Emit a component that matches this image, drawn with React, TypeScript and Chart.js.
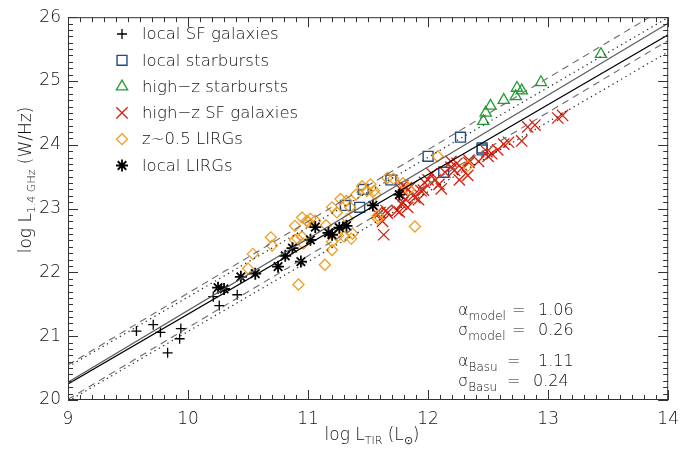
import React, { useEffect, useRef } from 'react';
import { Chart, registerables } from 'chart.js';

Chart.register(...registerables);

// ---------- data ----------
const xTicks = [9, 10, 11, 12, 13, 14];
const yTicks = [20, 21, 22, 23, 24, 25, 26];

const localSF: number[][] = [
  [9.57, 21.08], [9.71, 21.18], [9.77, 21.06], [9.94, 21.12], [9.93, 20.96],
  [9.83, 20.74], [10.21, 21.62], [10.26, 21.48], [10.41, 21.65],
];

const localStarbursts: number[][] = [
  [11.31, 23.05], [11.43, 23.02], [11.46, 23.3], [11.69, 23.45], [12.0, 23.82],
  [12.13, 23.57], [12.27, 24.12], [12.45, 23.95], [12.45, 23.92],
];

const highzStarbursts: number[][] = [
  [12.46, 24.37], [12.48, 24.5], [12.52, 24.61], [12.63, 24.7], [12.73, 24.76],
  [12.74, 24.89], [12.78, 24.85], [12.94, 24.98], [13.44, 25.42],
];

const highzSF: number[][] = [
  [11.63, 22.59], [11.62, 22.8], [11.6, 22.94], [11.65, 22.97], [11.74, 22.97],
  [11.78, 23.07], [11.83, 23.02], [11.81, 23.15], [11.88, 23.21], [11.96, 23.29],
  [12.06, 23.45], [12.09, 23.38], [12.11, 23.31], [12.14, 23.57], [12.19, 23.65],
  [12.22, 23.6], [12.26, 23.45], [12.33, 23.52], [12.34, 23.72], [12.49, 23.89],
  [12.53, 23.86], [12.58, 23.92], [12.63, 24.01], [12.67, 24.04], [12.78, 24.06],
  [12.83, 24.28], [12.89, 24.31], [13.08, 24.42], [13.12, 24.46], [12.5, 23.82],
  [12.42, 23.74], [12.34, 23.76], [12.19, 23.74], [11.57, 22.93], [11.66, 22.93],
  [11.76, 22.95], [11.79, 23.1], [11.79, 23.36], [11.86, 23.35], [11.94, 23.28],
  [11.97, 23.41], [11.89, 23.17], [11.78, 23.29], [11.82, 23.33], [12.0, 23.45],
  [12.03, 23.55], [12.24, 23.71], [12.28, 23.63], [11.92, 23.14],
];

const lirgsZ05: number[][] = [
  [10.54, 22.29], [10.5, 22.06], [10.69, 22.55], [10.7, 22.42], [10.89, 22.73],
  [10.92, 21.81], [10.95, 22.86], [10.99, 22.81], [11.02, 22.84], [11.06, 22.81],
  [10.95, 22.56], [10.96, 22.45], [10.91, 22.53], [11.14, 22.12], [11.2, 22.35],
  [11.2, 23.02], [11.24, 22.94], [11.27, 23.15], [11.15, 22.74], [11.33, 22.84],
  [11.3, 22.56], [11.37, 22.61], [11.4, 23.22], [11.49, 23.28], [11.55, 23.28],
  [11.52, 23.38], [11.58, 22.84], [11.66, 23.48], [11.71, 23.47], [11.89, 22.72],
  [12.08, 23.82], [11.25, 22.58], [11.36, 22.53], [11.2, 22.48], [11.32, 23.12],
  [11.35, 23.02], [11.45, 23.35], [11.79, 23.4], [11.84, 23.3], [11.58, 22.89],
  [11.0, 22.79], [10.89, 22.51], [11.56, 23.22], [12.33, 23.67],
];

const localLIRGs: number[][] = [
  [10.25, 21.76], [10.3, 21.74], [10.44, 21.93], [10.56, 21.98], [10.75, 22.09],
  [10.81, 22.26], [10.87, 22.38], [10.94, 22.17], [11.02, 22.51], [11.06, 22.71],
  [11.2, 22.59], [11.17, 22.62], [11.26, 22.7], [11.32, 22.73], [11.54, 23.05],
  [11.76, 23.22],
];

// fitted relations (value at log LTIR = 9, slope, scatter band)
const lineRange = [9, 14];
const grayFit = [20.28, 1.125, 0.27];
const blackFit = [20.25, 1.095, 0.27];

const legendLabels = [
  'local SF galaxies',
  'local starbursts',
  'high\u2212z starbursts',
  'high\u2212z SF galaxies',
  'z~0.5 LIRGs',
  'local LIRGs',
];
const statNames = ['\u03b1', '\u03c3', '\u03b1', '\u03c3'];
const statSubs = ['model', 'model', 'Basu', 'Basu'];
const statValues = ['1.06', '0.26', '1.11', '0.24'];

// ---------- styling ----------
const FONT = '"DejaVu Sans ExtraLight", "DejaVu Sans Light", "DejaVu Sans", sans-serif';
const W = '200';
const TEXT = '#111111';
const C_SQ = '#1f4f7f';
const C_TRI = '#1e9e30';
const C_X = '#d8200f';
const C_DIA = '#ef9f25';

const markerStyles = [
  { style: 'cross', color: '#000000', r: 5, lw: 1.3 },
  { style: 'rect', color: C_SQ, r: 7, lw: 1.4 },
  { style: 'triangle', color: C_TRI, r: 6.5, lw: 1.3 },
  { style: 'crossRot', color: C_X, r: 8, lw: 1.3 },
  { style: 'rectRot', color: C_DIA, r: 5.5, lw: 1.3 },
  { style: 'star', color: '#000000', r: 6, lw: 1.8 },
];

function drawMarker(ctx: CanvasRenderingContext2D, style: string, x: number, y: number, r: number, color: string, lw: number) {
  ctx.save();
  ctx.strokeStyle = color;
  ctx.lineWidth = lw;
  ctx.beginPath();
  const d = r * Math.SQRT1_2;
  if (style === 'cross' || style === 'star') {
    ctx.moveTo(x - r, y); ctx.lineTo(x + r, y);
    ctx.moveTo(x, y - r); ctx.lineTo(x, y + r);
  }
  if (style === 'crossRot' || style === 'star') {
    ctx.moveTo(x - d, y - d); ctx.lineTo(x + d, y + d);
    ctx.moveTo(x - d, y + d); ctx.lineTo(x + d, y - d);
  }
  if (style === 'rect') ctx.rect(x - d, y - d, 2 * d, 2 * d);
  if (style === 'rectRot') {
    ctx.moveTo(x - r, y); ctx.lineTo(x, y - r); ctx.lineTo(x + r, y); ctx.lineTo(x, y + r); ctx.closePath();
  }
  if (style === 'triangle') {
    let a = 0;
    ctx.moveTo(x + Math.sin(a) * r, y - Math.cos(a) * r);
    a += (2 * Math.PI) / 3;
    ctx.lineTo(x + Math.sin(a) * r, y - Math.cos(a) * r);
    a += (2 * Math.PI) / 3;
    ctx.lineTo(x + Math.sin(a) * r, y - Math.cos(a) * r);
    ctx.closePath();
  }
  ctx.stroke();
  ctx.restore();
}

type Seg = { t: string; sub?: boolean };
function richWidth(ctx: CanvasRenderingContext2D, segs: Seg[], font: string, subFont: string) {
  let w = 0;
  for (const s of segs) { ctx.font = s.sub ? subFont : font; w += ctx.measureText(s.t).width; }
  return w;
}
function drawRich(ctx: CanvasRenderingContext2D, x: number, y: number, segs: Seg[], font: string, subFont: string, subDy: number) {
  ctx.textBaseline = 'alphabetic';
  ctx.textAlign = 'left';
  let cx = x;
  for (const s of segs) {
    ctx.font = s.sub ? subFont : font;
    ctx.fillText(s.t, cx, s.sub ? y + subDy : y);
    cx += ctx.measureText(s.t).width;
  }
  return cx;
}

const decorPlugin = {
  id: 'decor',
  afterDraw(chart: any) {
    const ctx: CanvasRenderingContext2D = chart.ctx;
    const { left, right, top, bottom } = chart.chartArea;
    const xs = chart.scales.x;
    const ys = chart.scales.y;
    ctx.save();
    // frame
    ctx.strokeStyle = '#333';
    ctx.lineWidth = 1;
    ctx.strokeRect(left + 0.5, top + 0.5, right - left - 1, bottom - top - 1);
    ctx.beginPath();
    for (let i = 0; i <= 50; i++) {
      const v = 9 + i * 0.1;
      const p = Math.round(xs.getPixelForValue(v)) + 0.5;
      const len = i % 10 === 0 ? 10 : 5;
      ctx.moveTo(p, bottom); ctx.lineTo(p, bottom - len);
      ctx.moveTo(p, top); ctx.lineTo(p, top + len);
    }
    for (let i = 0; i <= 60; i++) {
      const v = 20 + i * 0.1;
      const p = Math.round(ys.getPixelForValue(v)) + 0.5;
      const len = i % 10 === 0 ? 10 : 5;
      ctx.moveTo(left, p); ctx.lineTo(left + len, p);
      ctx.moveTo(right, p); ctx.lineTo(right - len, p);
    }
    ctx.stroke();

    // legend
    for (let i = 0; i < legendLabels.length; i++) {
      const y = 34 + i * 26.3;
      const m = markerStyles[i];
      drawMarker(ctx, m.style, 122, y, m.r, m.color, m.lw);
      ctx.font = `${W} 16.5px ${FONT}`;
      ctx.textBaseline = 'middle';
      ctx.textAlign = 'left';
      ctx.fillStyle = TEXT;
      ctx.fillText(legendLabels[i], 142, y + 1);
    }

    // statistics text
    const base = [315, 335, 366, 386];
    const eqX = [512, 512, 507, 507];
    const valX = [538, 538, 538, 533];
    for (let i = 0; i < 4; i++) {
      ctx.fillStyle = TEXT;
      drawRich(ctx, 458, base[i], [{ t: statNames[i] }, { t: statSubs[i], sub: true }], `${W} 16px ${FONT}`, `${W} 12px ${FONT}`, 5);
      ctx.font = `${W} 16px ${FONT}`;
      ctx.fillText('=', eqX[i], base[i]);
      ctx.fillText(statValues[i], valX[i], base[i]);
    }

    // x title
    const xt: Seg[] = [{ t: 'log L' }, { t: 'TIR', sub: true }, { t: ' (L' }, { t: '\u2299', sub: true }, { t: ')' }];
    const f1 = `${W} 17px ${FONT}`;
    const f2 = `${W} 11px ${FONT}`;
    const wx = richWidth(ctx, xt, f1, f2);
    drawRich(ctx, 372 - wx / 2, 440, xt, f1, f2, 4);

    // y title
    const yt: Seg[] = [{ t: 'log L' }, { t: '1.4 GHz', sub: true }, { t: ' (W/Hz)' }];
    const wy = richWidth(ctx, yt, f1, f2);
    ctx.save();
    ctx.translate(31, 180);
    ctx.rotate(-Math.PI / 2);
    drawRich(ctx, -wy / 2, 0, yt, f1, f2, 4);
    ctx.restore();
    ctx.restore();
  },
};

function pts(arr: number[][]) {
  return arr.map((p) => ({ x: p[0], y: p[1] }));
}
function fitLine(f: number[], off: number) {
  return lineRange.map((x) => ({ x, y: f[0] + off + f[1] * (x - 9) }));
}

export default function App() {
  const ref = useRef<HTMLCanvasElement>(null);
  useEffect(() => {
    document.body.style.margin = '0';
    const canvas = ref.current!;
    const series = [localSF, localStarbursts, highzStarbursts, highzSF, lirgsZ05, localLIRGs];
    const orders = [6, 5, 4, 3, 2, 1];
    const scatterSets = series.map((s, i) => ({
      type: 'scatter' as const,
      data: pts(s),
      pointStyle: markerStyles[i].style,
      pointRadius: markerStyles[i].r,
      pointBorderColor: markerStyles[i].color,
      pointBackgroundColor: 'rgba(0,0,0,0)',
      pointBorderWidth: markerStyles[i].lw,
      pointHoverRadius: markerStyles[i].r,
      showLine: false,
      order: orders[i],
    }));
    const lineSet = (data: any, color: string, width: number, dash: number[]) => ({
      type: 'line' as const,
      data,
      borderColor: color,
      borderWidth: width,
      borderDash: dash,
      pointRadius: 0,
      fill: false,
      order: 0,
    });
    const lineSets = [
      lineSet(fitLine(grayFit, 0), '#5a5a5a', 1.2, []),
      lineSet(fitLine(blackFit, 0), '#000000', 1.3, []),
      lineSet(fitLine(grayFit, grayFit[2]), '#6a6a6a', 1.1, [7, 5]),
      lineSet(fitLine(grayFit, -grayFit[2]), '#6a6a6a', 1.1, [7, 5]),
      lineSet(fitLine(blackFit, blackFit[2]), '#222222', 1.2, [1.3, 3.7]),
      lineSet(fitLine(blackFit, -blackFit[2]), '#222222', 1.2, [1.3, 3.7]),
    ];
    const chart = new Chart(canvas, {
      type: 'scatter',
      data: { datasets: [...lineSets, ...scatterSets] as any },
      options: {
        responsive: false,
        animation: false,
        devicePixelRatio: 1,
        layout: { padding: { top: 11, right: 8, left: 0, bottom: 0 }, autoPadding: false },
        plugins: { legend: { display: false }, tooltip: { enabled: false } },
        scales: {
          x: {
            type: 'linear',
            min: 9,
            max: 14,
            afterBuildTicks: (s: any) => { s.ticks = xTicks.map((v) => ({ value: v })); },
            grid: { display: false, drawTicks: false },
            border: { display: false },
            ticks: { font: { family: FONT, size: 17, weight: W }, color: TEXT, padding: 9, maxRotation: 0 },
            afterFit: (s: any) => { s.height = 68; },
          },
          y: {
            type: 'linear',
            min: 20,
            max: 26,
            afterBuildTicks: (s: any) => { s.ticks = yTicks.map((v) => ({ value: v })); },
            grid: { display: false, drawTicks: false },
            border: { display: false },
            ticks: { font: { family: FONT, size: 17, weight: W }, color: TEXT, padding: 7 },
            afterFit: (s: any) => { s.width = 68; },
          },
        },
      } as any,
      plugins: [decorPlugin],
    });
    return () => chart.destroy();
  }, []);
  return (
    <div style={{ width: 688, height: 468 }}>
      <canvas ref={ref} width={688} height={468} style={{ display: 'block' }} />
    </div>
  );
}
